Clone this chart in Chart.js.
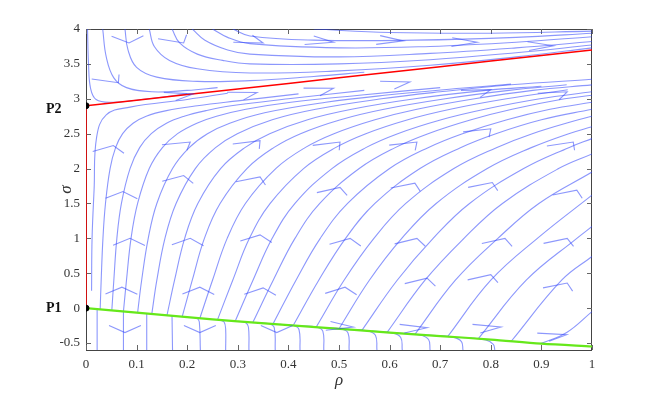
<!DOCTYPE html>
<html>
<head>
<meta charset="utf-8">
<script src="https://cdn.jsdelivr.net/npm/chart.js@4.4.1/dist/chart.umd.min.js"></script>
<style>
  html, body { margin: 0; padding: 0; background: #fff; }
</style>
</head>
<body>
<canvas id="phase" width="654" height="394"></canvas>
<script>
// axis ticks
const xTicks = [0, 0.1, 0.2, 0.3, 0.4, 0.5, 0.6, 0.7, 0.8, 0.9, 1];
const yTicks = [-0.5, 0, 0.5, 1, 1.5, 2, 2.5, 3, 3.5, 4];

// equilibria
const eqLabels = ['P1', 'P2'];
const eqRho = [0, 0];
const eqSigma = [0, 2.9];

// red curve (axis segment + branch leaving P2)
const redAxisRho = [0, 0];
const redAxisSigma = [0, 2.9];
const redRho = [0, 0.2, 0.4, 0.6, 0.8, 1];
const redSigma = [2.9, 3.06, 3.22, 3.38, 3.54, 3.7];

// green curve leaving P1
const greenRho = [0, 0.1, 0.2, 0.3, 0.46, 0.6, 0.7, 0.8, 0.9, 1];
const greenSigma = [0, -0.065, -0.13, -0.19, -0.275, -0.35, -0.4, -0.45, -0.51, -0.55];

// streamlines above the red curve, [rho, sigma]
const upperLines = [
  [[0.003,4.0],[0.005,3.5],[0.009,3.15],[0.02,2.99],[0.05,2.95],[0.1,2.98],[0.2,3.07]],
  [[0.033,4.0],[0.04,3.6],[0.055,3.3],[0.08,3.16],[0.13,3.1],[0.2,3.12],[0.26,3.16]],
  [[0.077,4.0],[0.083,3.7],[0.1,3.45],[0.14,3.31],[0.22,3.25],[0.324,3.26],[0.45,3.32],[0.55,3.38]],
  [[0.125,4.0],[0.135,3.75],[0.165,3.55],[0.22,3.43],[0.324,3.37],[0.5,3.4],[0.68,3.48],[0.85,3.6],[1.0,3.73]],
  [[0.17,4.0],[0.185,3.8],[0.22,3.64],[0.27,3.55],[0.324,3.5],[0.5,3.5],[0.68,3.56],[0.85,3.66],[1.0,3.77]],
  [[0.21,4.0],[0.235,3.84],[0.28,3.7],[0.324,3.64],[0.5,3.6],[0.68,3.65],[0.85,3.73],[1.0,3.82]],
  [[0.25,4.0],[0.28,3.88],[0.324,3.79],[0.5,3.73],[0.68,3.75],[0.85,3.81],[1.0,3.89]],
  [[0.29,4.0],[0.324,3.9],[0.45,3.84],[0.65,3.84],[0.85,3.88],[1.0,3.94]],
  [[0.45,4.0],[0.6,3.95],[0.8,3.94],[1.0,3.97]]
];

// streamlines between green and red curves
const middleLines = [
  [[0.011,0.25],[0.012,1.0],[0.016,1.7],[0.021,2.45],[0.04,2.77],[0.087,2.88],[0.2,2.99],[0.28,3.08]],
  [[0.028,-0.018],[0.03,0.4],[0.0335,1.0],[0.0385,1.5],[0.0476,2.0],[0.0585,2.3],[0.0724,2.5],[0.093,2.65],[0.119,2.75],[0.159,2.83],[0.22,2.9],[0.3,2.97],[0.42,3.07]],
  [[0.051,-0.033],[0.055,0.4],[0.061,1.0],[0.07,1.5],[0.087,2.0],[0.106,2.3],[0.129,2.5],[0.159,2.65],[0.194,2.75],[0.237,2.83],[0.287,2.9],[0.4,3.0],[0.55,3.12]],
  [[0.074,-0.048],[0.08,0.4],[0.089,1.0],[0.102,1.5],[0.125,2.0],[0.151,2.3],[0.181,2.5],[0.219,2.65],[0.258,2.75],[0.316,2.85],[0.405,2.95],[0.54,3.05],[0.7,3.16]],
  [[0.102,-0.066],[0.11,0.4],[0.123,1.0],[0.14,1.5],[0.171,2.0],[0.204,2.3],[0.24,2.5],[0.284,2.65],[0.353,2.8],[0.474,2.95],[0.59,3.05],[0.74,3.15],[0.84,3.21]],
  [[0.13,-0.085],[0.14,0.4],[0.156,1.0],[0.178,1.5],[0.216,2.0],[0.256,2.3],[0.299,2.5],[0.368,2.7],[0.454,2.85],[0.584,3.0],[0.7,3.1],[0.84,3.2],[1.0,3.28]],
  [[0.16,-0.105],[0.175,0.4],[0.195,1.0],[0.221,1.5],[0.266,2.0],[0.314,2.3],[0.363,2.5],[0.438,2.7],[0.525,2.85],[0.65,3.0],[0.79,3.12],[0.9,3.18]],
  [[0.19,-0.125],[0.21,0.4],[0.234,1.0],[0.265,1.5],[0.318,2.0],[0.371,2.3],[0.424,2.5],[0.503,2.7],[0.589,2.85],[0.71,3.0],[0.836,3.12],[0.95,3.2]],
  [[0.225,-0.145],[0.25,0.4],[0.279,1.0],[0.315,1.5],[0.375,2.0],[0.433,2.3],[0.49,2.5],[0.571,2.7],[0.654,2.85],[0.768,3.0],[0.883,3.12],[1.0,3.2]],
  [[0.26,-0.165],[0.29,0.4],[0.323,1.0],[0.364,1.5],[0.43,2.0],[0.493,2.3],[0.553,2.5],[0.636,2.7],[0.72,2.85],[0.831,3.0],[0.952,3.13]],
  [[0.295,-0.185],[0.33,0.4],[0.368,1.0],[0.413,1.5],[0.486,2.0],[0.553,2.3],[0.616,2.5],[0.702,2.7],[0.788,2.85],[0.897,3.0],[1.0,3.1]],
  [[0.33,-0.2],[0.37,0.4],[0.413,1.0],[0.462,1.5],[0.54,2.0],[0.611,2.3],[0.676,2.5],[0.761,2.7],[0.842,2.85],[0.946,3.0],[1.0,3.05]],
  [[0.37,-0.222],[0.415,0.4],[0.463,1.0],[0.517,1.5],[0.6,2.0],[0.676,2.3],[0.744,2.5],[0.832,2.7],[0.917,2.85],[1.0,2.95]],
  [[0.41,-0.243],[0.46,0.4],[0.513,1.0],[0.571,1.5],[0.66,2.0],[0.74,2.3],[0.81,2.5],[0.9,2.7],[1.0,2.85]],
  [[0.455,-0.27],[0.51,0.4],[0.569,1.0],[0.632,1.5],[0.727,2.0],[0.811,2.3],[0.882,2.5],[0.973,2.7],[1.0,2.75]],
  [[0.5,-0.295],[0.56,0.4],[0.624,1.0],[0.692,1.5],[0.793,2.0],[0.88,2.3],[0.954,2.5],[1.0,2.6]],
  [[0.545,-0.32],[0.615,0.4],[0.686,1.0],[0.758,1.5],[0.865,2.0],[0.954,2.3],[1.0,2.43]],
  [[0.595,-0.348],[0.67,0.4],[0.747,1.0],[0.823,1.5],[0.934,2.0],[1.0,2.21]],
  [[0.65,-0.375],[0.73,0.4],[0.814,1.0],[0.895,1.5],[1.0,1.95]],
  [[0.715,-0.405],[0.8,0.4],[0.892,1.0],[1.0,1.62]],
  [[0.775,-0.44],[0.87,0.4],[0.97,1.0],[1.0,1.17]],
  [[0.84,-0.478],[0.94,0.4],[1.0,0.74]],
  [[0.9,-0.505],[0.95,-0.35],[1.0,-0.05]]
];

// streamlines below the green curve
const lowerLines = [
  [[0.022,-0.014],[0.022,-0.6]],
  [[0.074,-0.048],[0.074,-0.6]],
  [[0.12,-0.078],[0.12,-0.6]],
  [[0.17,-0.11],[0.171,-0.6]],
  [[0.22,-0.142],[0.224,-0.2],[0.226,-0.6]],
  [[0.265,-0.17],[0.273,-0.2],[0.276,-0.3],[0.276,-0.6]],
  [[0.3,-0.19],[0.315,-0.205],[0.321,-0.27],[0.322,-0.6]],
  [[0.34,-0.21],[0.362,-0.225],[0.372,-0.28],[0.374,-0.6]],
  [[0.383,-0.232],[0.41,-0.25],[0.421,-0.31],[0.423,-0.6]],
  [[0.425,-0.255],[0.455,-0.27],[0.468,-0.33],[0.47,-0.6]],
  [[0.47,-0.28],[0.505,-0.3],[0.518,-0.36],[0.52,-0.6]],
  [[0.515,-0.305],[0.555,-0.325],[0.572,-0.39],[0.575,-0.6]],
  [[0.565,-0.33],[0.605,-0.355],[0.622,-0.42],[0.625,-0.6]],
  [[0.615,-0.357],[0.66,-0.385],[0.677,-0.45],[0.68,-0.6]],
  [[0.675,-0.387],[0.725,-0.415],[0.742,-0.48],[0.745,-0.6]],
  [[0.74,-0.42],[0.79,-0.455],[0.805,-0.52],[0.808,-0.6]]
];

// direction arrows: position and flow direction
const arrowRho   = [0.085,0.193,0.35,0.489,0.627,0.773,0.924, 0.064,0.212,0.338,0.489,0.64,0.8,0.951, 0.054,0.206,0.344,0.502,0.654,0.8,0.963, 0.073,0.193,0.344,0.502,0.65,0.803,0.97, 0.087,0.206,0.344,0.522,0.654,0.828,0.951, 0.071,0.225,0.35,0.512,0.674,0.8,0.951, 0.077,0.225,0.377,0.528,0.674,0.82,0.95];
const arrowSigma = [3.8,3.8,3.8,3.81,3.83,3.81,3.76, 3.23,3.07,3.09,3.15,3.24,3.13,3.1, 2.33,2.38,2.4,2.38,2.38,2.57,2.38, 1.67,1.9,1.88,1.73,1.79,1.8,1.69, 1.0,1.0,1.05,1.0,1.0,1.0,1.0, 0.3,0.3,0.29,0.3,0.43,0.48,0.36, -0.35,-0.35,-0.35,-0.27,-0.28,-0.27,-0.38];
const arrowDRho  = [0.03,0.25,1,1,1,1,1, 0.3,1,1,1,1,1,1, 0.1,0.4,1,1,1,1,1, 0.03,0.12,0.2,1,1,1,1, 0.02,0.05,0.08,1,1,1,1, 0.01,0.03,0.06,1,1,1,1, 0,0,0,1,1,1,1];
const arrowDSigma= [-1,-1,-1.5,-0.6,-0.25,-0.05,0.1, -1,0.8,1.2,1.2,1.0,1.5,1.8, 1,1,3,3,2.8,2.8,3.5, 1,1,1,6,5,5,5, 1,1,1,10,7,6,5.5, 1,1,1,12,7,6,5, -1,-1,-1,-0.3,0.3,0.5,0.8];

const STREAM = 'rgba(45,65,250,0.55)';
const FONT = "'Liberation Serif', 'DejaVu Serif', serif";

const toPts = pts => pts.map(([x, y]) => ({x, y}));
const zipPts = (xs, ys) => xs.map((x, i) => ({x, y: ys[i]}));

const streamSets = [...upperLines, ...middleLines, ...lowerLines].map(pts => ({
  data: toPts(pts), showLine: true, pointRadius: 0, borderColor: STREAM,
  borderWidth: 1.1, tension: 0.4, order: 5
}));

const datasets = [
  {data: zipPts(eqRho, eqSigma), pointRadius: 3, pointBackgroundColor: '#000', pointBorderColor: '#000', showLine: false, order: 0},
  {data: zipPts(redAxisRho, redAxisSigma), showLine: true, pointRadius: 0, borderColor: '#ff0000', borderWidth: 1.5, order: 1},
  {data: zipPts(redRho, redSigma), showLine: true, pointRadius: 0, borderColor: '#ff0000', borderWidth: 1.5, tension: 0.3, order: 1},
  {data: zipPts(greenRho, greenSigma), showLine: true, pointRadius: 0, borderColor: '#66e81a', borderWidth: 2.2, tension: 0.3, order: 1},
  ...streamSets
];

// frame with inward ticks
const framePlugin = {
  id: 'frame',
  beforeDatasetsDraw(chart) {
    const {ctx, chartArea: a, scales: {x, y}} = chart;
    ctx.save();
    ctx.strokeStyle = '#444';
    ctx.lineWidth = 1;
    ctx.strokeRect(a.left + 0.5, a.top + 0.5, a.right - a.left - 1, a.bottom - a.top);
    ctx.strokeStyle = '#666';
    ctx.beginPath();
    xTicks.forEach(v => {
      const px = Math.round(x.getPixelForValue(v)) + 0.5;
      ctx.moveTo(px, a.bottom); ctx.lineTo(px, a.bottom - 5);
      ctx.moveTo(px, a.top); ctx.lineTo(px, a.top + 5);
    });
    yTicks.forEach(v => {
      const py = Math.round(y.getPixelForValue(v)) + 0.5;
      ctx.moveTo(a.left, py); ctx.lineTo(a.left + 5, py);
      ctx.moveTo(a.right, py); ctx.lineTo(a.right - 5, py);
    });
    ctx.stroke();
    ctx.restore();
  }
};

// streamslice style arrowheads
const arrowPlugin = {
  id: 'arrows',
  afterDatasetsDraw(chart) {
    const {ctx, chartArea: a, scales: {x, y}} = chart;
    const k = 2, la = 0.1, wa = 0.063;
    ctx.save();
    ctx.beginPath();
    ctx.rect(a.left, a.top, a.right - a.left, a.bottom - a.top);
    ctx.clip();
    ctx.strokeStyle = STREAM;
    ctx.lineWidth = 1.1;
    arrowRho.forEach((r, i) => {
      const s = arrowSigma[i];
      let tx = arrowDRho[i] * k, ty = arrowDSigma[i];
      const n = Math.hypot(tx, ty); tx /= n; ty /= n;
      const bx = -la * tx, by = -la * ty, nx = -ty, ny = tx;
      const w1 = [r + (bx + wa * nx) / k, s + by + wa * ny];
      const w2 = [r + (bx - wa * nx) / k, s + by - wa * ny];
      ctx.beginPath();
      ctx.moveTo(x.getPixelForValue(w1[0]), y.getPixelForValue(w1[1]));
      ctx.lineTo(x.getPixelForValue(r), y.getPixelForValue(s));
      ctx.lineTo(x.getPixelForValue(w2[0]), y.getPixelForValue(w2[1]));
      ctx.stroke();
    });
    ctx.restore();
  }
};

// P1 / P2 labels
const labelPlugin = {
  id: 'eqLabels',
  afterDraw(chart) {
    const {ctx, scales: {x, y}} = chart;
    ctx.save();
    ctx.font = `bold 14px ${FONT}`;
    ctx.fillStyle = '#111';
    ctx.textBaseline = 'middle';
    ctx.textAlign = 'left';
    eqLabels.forEach((t, i) => {
      const dy = i === 1 ? 4 : 0;
      ctx.fillText(t, x.getPixelForValue(eqRho[i]) - 40, y.getPixelForValue(eqSigma[i]) + dy);
    });
    ctx.restore();
  }
};

new Chart(document.getElementById('phase'), {
  type: 'scatter',
  data: {datasets},
  options: {
    responsive: false,
    animation: false,
    layout: {padding: {left: 0, right: 62, top: 29, bottom: 0}},
    plugins: {legend: {display: false}, tooltip: {enabled: false}},
    scales: {
      x: {
        type: 'linear', min: 0, max: 1,
        afterBuildTicks: s => { s.ticks = xTicks.map(v => ({value: v})); },
        afterFit: s => { s.height = 44; },
        grid: {display: false, drawTicks: false},
        border: {display: false},
        ticks: {font: {family: FONT, size: 13}, color: '#333', padding: 7, maxRotation: 0, callback: v => String(v)},
        title: {display: true, text: 'ρ', color: '#333', font: {family: FONT, size: 17, style: 'italic'}, padding: {top: 0, bottom: 3}}
      },
      y: {
        type: 'linear', min: -0.6, max: 4,
        afterBuildTicks: s => { s.ticks = yTicks.map(v => ({value: v})); },
        afterFit: s => { s.width = 86; },
        grid: {display: false, drawTicks: false},
        border: {display: false},
        ticks: {font: {family: FONT, size: 13}, color: '#333', padding: 6, callback: v => String(v)},
        title: {display: true, text: 'σ', color: '#333', font: {family: FONT, size: 17, style: 'italic'}, padding: {top: 56, bottom: 0}}
      }
    }
  },
  plugins: [framePlugin, arrowPlugin, labelPlugin]
});
</script>
</body>
</html>
